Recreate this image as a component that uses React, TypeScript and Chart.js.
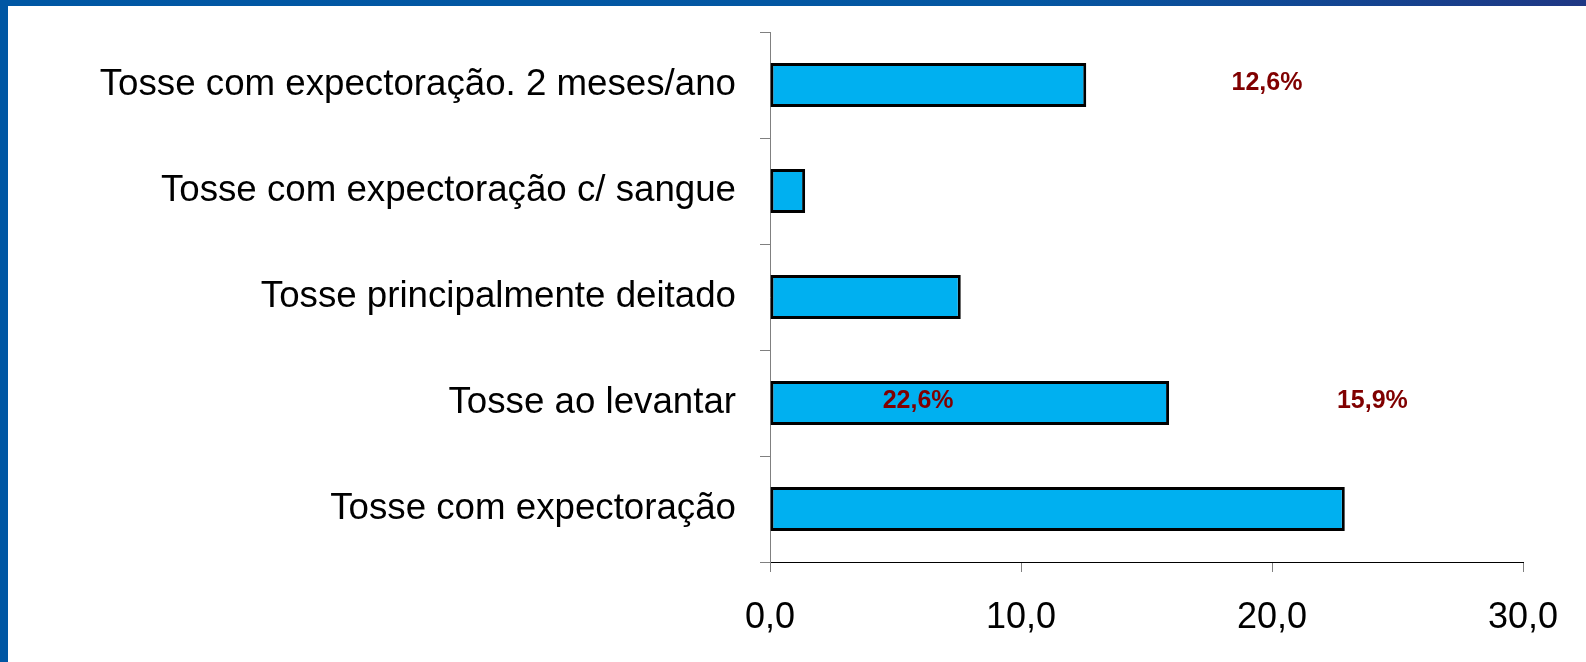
import React, { useEffect, useRef } from "react";
import { Chart, registerables } from "chart.js";

Chart.register(...registerables);

const categories = [
  "Tosse com expectoração. 2 meses/ano",
  "Tosse com expectoração c/ sangue",
  "Tosse principalmente deitado",
  "Tosse ao levantar",
  "Tosse com expectoração",
];
const values = [12.6, 1.4, 7.6, 15.9, 22.9];

const xTicks = [0, 10, 20, 30];

const noteTexts = ["12,6%", "22,6%", "15,9%"];
const noteX = [19.8, 5.9, 24.0];
const noteCategory = [0, 3, 3];

const FONT = "'Liberation Sans', Arial, sans-serif";

export default function App() {
  const ref = useRef<HTMLCanvasElement | null>(null);

  useEffect(() => {
    document.body.style.margin = "0";
    if (!ref.current) return;
    const notesPlugin = {
      id: "notes",
      afterDatasetsDraw(chart: any) {
        const ctx = chart.ctx;
        const xs = chart.scales.x;
        const ys = chart.scales.y;
        ctx.save();
        ctx.font = `bold 25px ${FONT}`;
        ctx.fillStyle = "#800000";
        ctx.textAlign = "center";
        ctx.textBaseline = "middle";
        noteTexts.forEach((t, i) => {
          ctx.fillText(t, xs.getPixelForValue(noteX[i]), ys.getPixelForValue(noteCategory[i]) - 2);
        });
        ctx.restore();
      },
    };
    const chart = new Chart(ref.current, {
      type: "bar",
      data: {
        labels: categories,
        datasets: [
          {
            data: values,
            backgroundColor: "#00B0F0",
            borderColor: "#000000",
            borderWidth: 3,
            borderSkipped: false,
            barPercentage: 0.415,
            categoryPercentage: 1,
          },
        ],
      },
      options: {
        indexAxis: "y",
        animation: false,
        responsive: false,
        maintainAspectRatio: false,
        layout: { padding: { top: 26, right: 63, left: 0, bottom: 0 } },
        plugins: { legend: { display: false }, tooltip: { enabled: false } },
        scales: {
          x: {
            type: "linear",
            min: 0,
            max: 30,
            afterBuildTicks(scale: any) {
              scale.ticks = xTicks.map((v) => ({ value: v }));
            },
            afterFit(scale: any) {
              scale.height = 100;
            },
            grid: {
              drawOnChartArea: false,
              drawTicks: true,
              tickLength: 10,
              color: "#808080",
            },
            border: { color: "#000000", width: 1 },
            ticks: {
              color: "#000000",
              font: { family: FONT, size: 36 },
              padding: 24,
              maxRotation: 0,
              callback: (v: any) => Number(v).toFixed(1).replace(".", ","),
            },
          },
          y: {
            type: "category",
            afterFit(scale: any) {
              scale.width = 762;
              scale.paddingTop = 0;
              scale.paddingBottom = 0;
            },
            grid: {
              offset: true,
              drawOnChartArea: false,
              drawTicks: true,
              tickLength: 10,
              color: "#808080",
            },
            border: { color: "#808080", width: 1 },
            ticks: {
              color: "#000000",
              font: { family: FONT, size: 36.7 },
              padding: 24,
            },
          },
        },
      },
      plugins: [notesPlugin],
    } as any);
    return () => chart.destroy();
  }, []);

  return (
    <div
      style={{
        position: "absolute",
        left: 0,
        top: 0,
        width: 1586,
        height: 662,
        background: "linear-gradient(90deg, #0057A4 0%, #0457A2 65%, #1F3784 100%)",
      }}
    >
      <div
        style={{
          position: "absolute",
          left: 0,
          top: 0,
          width: 8,
          height: 662,
          background: "#0057A4",
        }}
      />
      <canvas
        ref={ref}
        width={1578}
        height={656}
        style={{ position: "absolute", left: 8, top: 6, width: 1578, height: 656, background: "#ffffff" }}
      />
    </div>
  );
}
